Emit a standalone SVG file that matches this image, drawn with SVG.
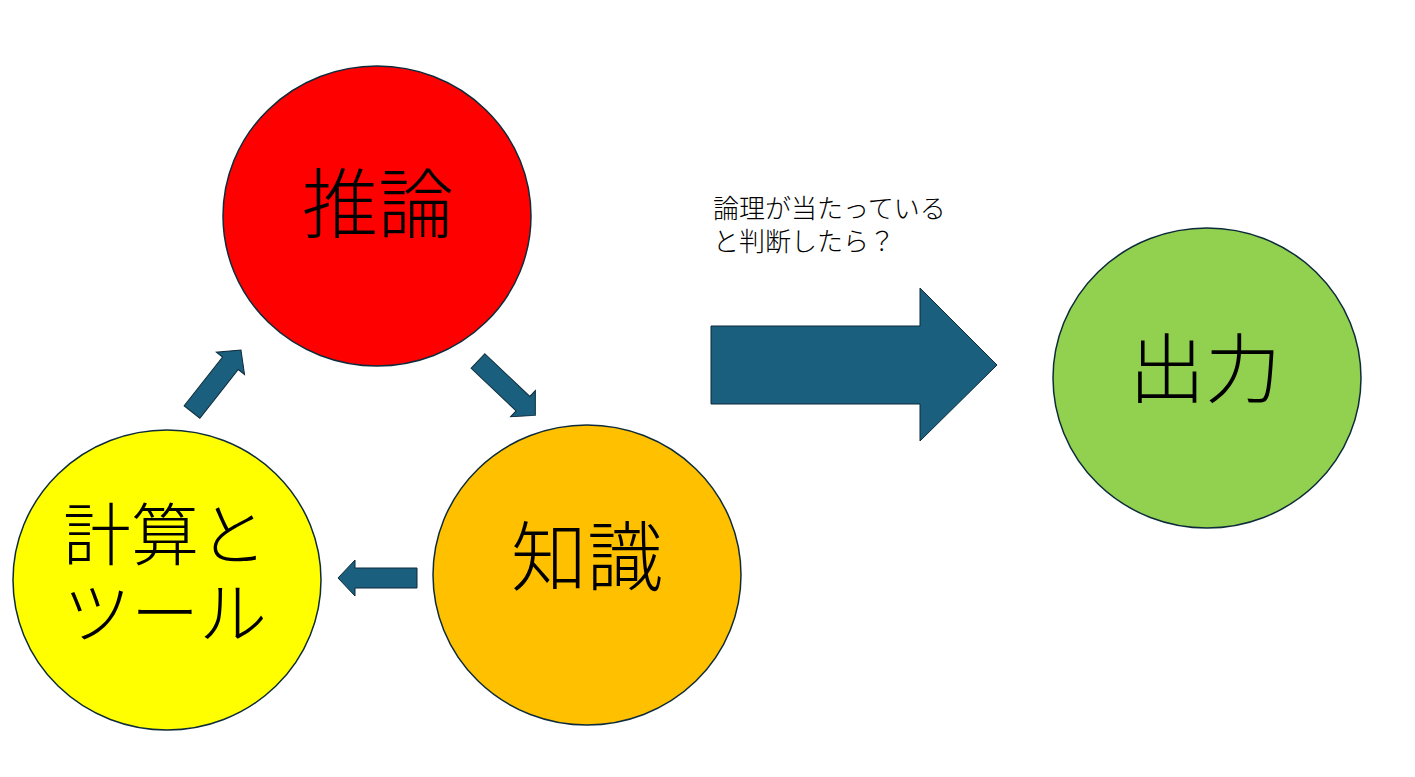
<svg xmlns="http://www.w3.org/2000/svg" width="1415" height="777" viewBox="0 0 1415 777">
<style>
.n{stroke:#0d2b3a;stroke-width:1.5}
.t{font-family:"Noto Sans CJK JP",sans-serif;font-size:76px;font-weight:300;fill:#000;text-anchor:middle}
.u{font-size:68px}
.s{font-family:"Noto Sans CJK JP",sans-serif;font-size:26px;font-weight:300;fill:#000}
.a{fill:#1a5f7e;stroke:#0d2b3a;stroke-width:1}
</style>
<defs>
<polygon id="sa" points="0,-10 62,-10 62,-18 79,0 62,18 62,10 0,10"/>
</defs>
<rect width="1415" height="777" fill="#fff"/>
<g id="n1"><ellipse class="n" cx="377" cy="216" rx="154" ry="150" fill="#ff0000"/><text class="t" x="378" y="232">推論</text></g>
<g id="n2"><ellipse class="n" cx="587" cy="575" rx="154" ry="150" fill="#ffc000"/><text class="t" x="587" y="585">知識</text></g>
<g id="n3"><ellipse class="n" cx="167" cy="580" rx="154" ry="150" fill="#ffff00"/><text class="t u" x="165" y="560">計算と</text><text class="t u" x="165" y="638">ツール</text></g>
<g id="n4"><ellipse class="n" cx="1207" cy="378" rx="154" ry="150" fill="#92d050"/><text class="t" x="1205" y="397">出力</text></g>
<g id="connectors">
<use href="#sa" class="a" transform="translate(192,412) rotate(-51.7)"/>
<use href="#sa" class="a" transform="translate(478,361) rotate(43.5)"/>
<use href="#sa" class="a" transform="translate(417,578) rotate(180)"/>
<polygon class="a" points="711,326 920,326 920,288 997,365 920,441 920,404 711,404"/>
<text class="s" x="713" y="218">論理が当たっている</text>
<text class="s" x="713" y="251">と判断したら？</text>
</g>
</svg>
